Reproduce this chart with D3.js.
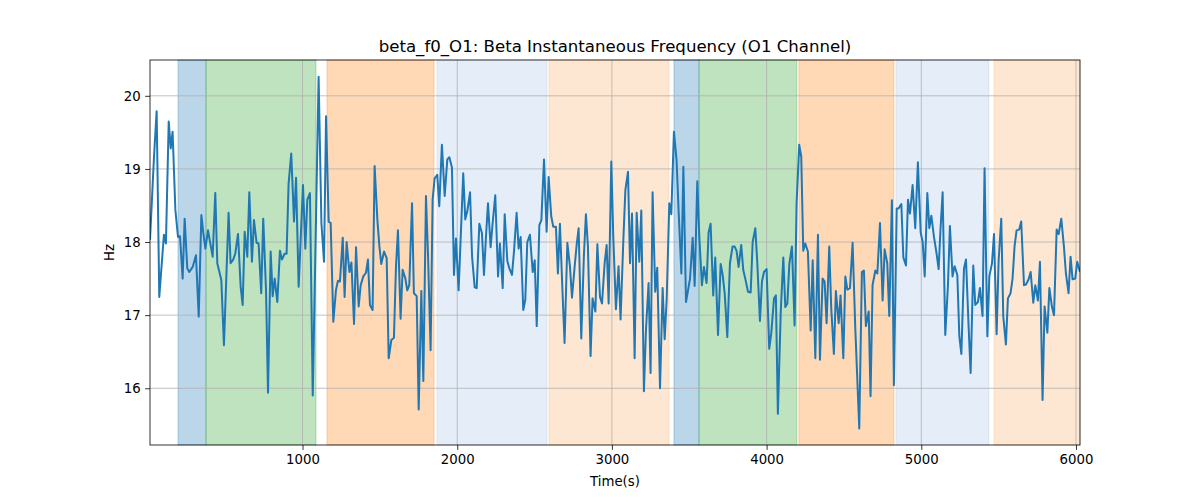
<!DOCTYPE html>
<html>
<head>
<meta charset="utf-8">
<script src="https://cdn.jsdelivr.net/npm/d3@7"></script>
<style>
  body { margin: 0; background: #fff; }
  svg { display: block; font-family: "DejaVu Sans", sans-serif; }
</style>
</head>
<body>
<svg id="chart" width="1200" height="500"></svg>
<script>
// ---- data ----
const times = [
  14, 40, 57, 74, 104, 117, 135, 148, 160, 178, 195, 208, 225, 238, 255, 268, 290, 311, 329, 346, 359, 372, 389, 419, 436, 449, 475, 492,
  522, 535, 552, 565, 583, 600, 613, 626, 643, 656, 673, 686, 703, 716, 733, 746, 764, 777, 794, 807, 820, 837, 854, 867, 884, 897, 910, 927, 945, 958, 975, 1003,
  1018, 1031, 1048, 1066, 1087, 1104, 1122, 1139, 1152, 1169, 1182, 1199, 1216, 1229, 1242, 1260, 1272, 1285, 1303, 1316, 1333, 1346, 1363, 1376, 1393, 1410, 1423, 1436, 1453, 1466, 1484, 1497, 1509,
  1527, 1544, 1557, 1574, 1591, 1604, 1617, 1634, 1647, 1665, 1677, 1690, 1708, 1720, 1738, 1751, 1768, 1781, 1798, 1811, 1828, 1841, 1854, 1871, 1884, 1901, 1919, 1936, 1949, 1966, 1979, 1992, 2009,
  2039, 2052, 2065, 2083, 2096, 2113, 2126, 2143, 2160, 2173, 2186, 2199, 2216, 2229, 2246, 2264, 2276, 2294, 2307, 2324, 2337, 2354, 2367, 2384, 2397, 2410, 2427, 2440, 2453, 2470, 2488, 2501, 2514,
  2531, 2544, 2561, 2578, 2591, 2608, 2621, 2638, 2651, 2664, 2681, 2694, 2712, 2729, 2742, 2759, 2772, 2785, 2802, 2819, 2832, 2845, 2862, 2875, 2893, 2906, 2923, 2936, 2953, 2966, 2979, 2996, 3009, 3026,
  3043, 3056, 3074, 3087, 3104, 3117, 3130, 3147, 3160, 3177, 3190, 3207, 3220, 3237, 3250, 3263, 3280, 3293, 3311, 3328, 3341, 3354, 3371, 3384, 3401, 3418, 3431, 3449, 3462, 3479, 3492, 3505, 3522, 3535,
  3552, 3565, 3582, 3595, 3612, 3625, 3638, 3655, 3668, 3686, 3703, 3716, 3729, 3746, 3763, 3780, 3793, 3806, 3819, 3836, 3849, 3862, 3880, 3897, 3910, 3927, 3940, 3957, 3970, 3983, 4000, 4017, 4030,
  4048, 4060, 4073, 4091, 4108, 4121, 4134, 4147, 4164, 4181, 4194, 4211, 4224, 4237, 4250, 4267, 4285, 4298, 4315, 4332, 4345, 4362, 4375, 4388, 4405, 4418, 4435, 4448, 4466, 4478, 4496, 4509, 4522, 4539,
  4556, 4573, 4599, 4616, 4629, 4642, 4660, 4672, 4685, 4703, 4716, 4733, 4750, 4763, 4780, 4793, 4810, 4823, 4841, 4853, 4871, 4884, 4901, 4914, 4927, 4944, 4961, 4978, 4996, 5009, 5022, 5039,
  5052, 5065, 5082, 5099, 5112, 5125, 5138, 5155, 5172, 5185, 5202, 5215, 5233, 5246, 5259, 5276, 5289, 5306, 5319, 5336, 5349, 5366, 5379, 5396, 5409, 5427, 5440, 5457, 5470, 5487, 5500, 5517, 5530,
  5547, 5560, 5577, 5590, 5603, 5616, 5633, 5646, 5664, 5677, 5694, 5707, 5724, 5737, 5754, 5767, 5784, 5797, 5815, 5828, 5845, 5858, 5875, 5888, 5905, 5922, 5935, 5952, 5965, 5978, 5995, 6008, 6026
];
const freqs = [
  18.03, 19.17, 19.79, 17.25, 18.10, 17.98, 19.65, 19.28, 19.51, 18.44, 18.07, 18.08, 17.50, 18.32, 17.64, 17.59, 17.66, 17.82, 16.98, 18.37, 18.12, 17.91, 18.16, 17.80, 18.67, 17.71, 17.48, 16.59,
  18.40, 17.71, 17.76, 17.84, 18.11, 17.39, 17.14, 18.14, 17.80, 18.68, 17.73, 18.30, 17.99, 17.98, 17.30, 18.32, 17.34, 15.94, 17.87, 17.26, 17.50, 17.18, 17.88, 17.76, 17.84, 17.84, 18.80, 19.21, 18.28, 18.88, 17.39, 18.78,
  17.91, 18.58, 18.67, 15.90, 18.30, 20.26, 18.26, 17.73, 19.72, 18.28, 18.26, 16.91, 17.34, 17.47, 17.46, 18.06, 17.25, 18.00, 17.59, 17.72, 16.88, 17.93, 17.12, 17.41, 17.53, 17.58, 17.76, 17.14, 17.07, 19.04, 18.30, 17.94, 17.70,
  17.87, 17.78, 16.41, 16.66, 16.69, 17.66, 18.16, 16.95, 17.62, 17.50, 17.34, 17.41, 18.53, 17.30, 17.26, 15.71, 17.33, 16.10, 18.63, 17.84, 16.52, 18.58, 18.87, 18.92, 18.49, 19.33, 18.63, 19.13, 19.16, 19.02, 17.55, 18.05, 17.34,
  18.94, 18.31, 18.42, 18.68, 17.80, 17.38, 17.37, 18.25, 18.12, 17.55, 18.08, 18.53, 17.93, 18.26, 18.64, 17.53, 17.98, 17.37, 18.38, 17.74, 17.64, 17.55, 17.87, 18.40, 17.91, 18.07, 17.07, 17.21, 18.00, 18.10, 17.59, 17.75, 16.85,
  18.23, 18.30, 19.13, 18.14, 18.89, 18.35, 18.21, 18.21, 17.57, 18.25, 17.30, 16.62, 17.99, 17.66, 17.24, 17.66, 17.96, 18.19, 16.68, 17.82, 18.38, 17.94, 16.44, 17.23, 17.05, 17.97, 17.25, 17.16, 17.71, 17.96, 17.16, 19.10, 18.07, 17.08,
  17.67, 16.94, 18.03, 18.71, 18.96, 17.71, 18.39, 16.41, 18.40, 17.73, 18.43, 15.96, 16.79, 17.44, 16.21, 18.68, 17.32, 17.65, 16.00, 17.37, 16.67, 17.21, 18.53, 18.38, 19.51, 19.12, 18.44, 17.57, 19.03, 17.18, 17.34, 17.50, 18.06, 17.40,
  18.83, 18.07, 17.41, 17.66, 17.44, 18.13, 18.25, 17.27, 17.79, 16.73, 17.70, 17.55, 17.30, 16.70, 17.71, 17.94, 17.94, 17.88, 17.66, 17.96, 17.62, 17.50, 17.32, 17.31, 18.00, 18.19, 17.71, 16.92, 17.46, 17.59, 17.63, 16.54, 16.75,
  17.23, 17.27, 15.65, 17.02, 17.79, 17.11, 17.16, 17.70, 17.94, 16.86, 18.53, 19.33, 19.17, 17.88, 17.98, 17.87, 16.79, 17.75, 16.41, 18.10, 16.39, 17.50, 17.46, 16.89, 17.94, 17.09, 16.47, 17.33, 16.89, 17.27, 16.41, 17.53, 17.35, 17.37,
  17.99, 16.84, 15.45, 17.59, 17.61, 16.85, 17.05, 15.89, 17.41, 17.61, 17.57, 18.26, 17.20, 17.90, 17.71, 16.99, 18.57, 16.04, 18.46, 18.46, 18.52, 17.79, 17.68, 18.58, 18.39, 18.78, 18.19, 19.09, 18.13, 18.00, 17.53, 18.67,
  18.19, 18.36, 18.07, 17.84, 17.63, 18.21, 18.68, 16.73, 17.39, 18.22, 17.53, 17.67, 17.55, 16.71, 16.47, 17.64, 17.76, 16.84, 16.21, 17.68, 17.14, 17.18, 17.37, 16.99, 19.01, 16.71, 17.53, 17.71, 18.11, 16.74, 17.75, 18.32, 16.98,
  16.60, 17.23, 17.30, 17.50, 17.94, 18.16, 18.17, 18.28, 17.41, 17.42, 17.49, 17.59, 17.17, 17.41, 17.20, 17.73, 15.84, 17.12, 16.76, 17.37, 17.11, 17.00, 18.17, 18.11, 18.32, 17.94, 17.57, 17.30, 17.80, 17.49, 17.50, 17.73, 17.59
];
// shaded phases: start, end, colour, opacity
const spanStarts = [195, 376, 1158, 1869, 2593, 3401, 3563, 4209, 4836, 5470];
const spanEnds   = [376, 1087, 1850, 2580, 3369, 3563, 4196, 4823, 5437, 6026];
const spanColors = ["#1f77b4", "#2ca02c", "#ff7f0e", "#6f9fd8", "#fdae6b", "#1f77b4", "#2ca02c", "#ff7f0e", "#6f9fd8", "#fdae6b"];
const spanAlphas = [0.3, 0.3, 0.3, 0.18, 0.3, 0.3, 0.3, 0.3, 0.18, 0.3];
const xTicks = [1000, 2000, 3000, 4000, 5000, 6000];
const yTicks = [16, 17, 18, 19, 20];
const titleText = "beta_f0_O1: Beta Instantaneous Frequency (O1 Channel)";
const xLabel = "Time(s)";
const yLabel = "Hz";

// ---- layout ----
const L = 150, R = 1080, T = 60, B = 445;
const svg = d3.select("#chart");
const x = d3.scaleLinear().domain([14, 6026]).range([L, R]);
const y = d3.scaleLinear().domain([15.224, 20.49]).range([B, T]);

// spans
const spans = spanStarts.map((s, i) => ({s, e: spanEnds[i], c: spanColors[i], a: spanAlphas[i]}));
svg.append("g").selectAll("rect").data(spans).join("rect")
  .attr("x", d => x(d.s)).attr("width", d => x(d.e) - x(d.s))
  .attr("y", T).attr("height", B - T)
  .attr("fill", d => d.c).attr("fill-opacity", d => d.a)
  .attr("stroke", d => d.c).attr("stroke-opacity", d => d.a).attr("stroke-width", 1);

// grid
const grid = svg.append("g").attr("stroke", "#b0b0b0").attr("stroke-width", 0.8);
grid.selectAll(".gx").data(xTicks).join("line")
  .attr("x1", d => x(d)).attr("x2", d => x(d)).attr("y1", T).attr("y2", B);
grid.selectAll(".gy").data(yTicks).join("line")
  .attr("y1", d => y(d)).attr("y2", d => y(d)).attr("x1", L).attr("x2", R);

// line
const pts = times.map((t, i) => [t, freqs[i]]);
svg.append("defs").append("clipPath").attr("id", "clip")
  .append("rect").attr("x", L).attr("y", T).attr("width", R - L).attr("height", B - T);
svg.append("path").datum(pts)
  .attr("clip-path", "url(#clip)")
  .attr("fill", "none").attr("stroke", "#1f77b4").attr("stroke-width", 2)
  .attr("stroke-linejoin", "round").attr("stroke-linecap", "butt")
  .attr("d", d3.line().x(d => x(d[0])).y(d => y(d[1])));

// axes
const xAxis = d3.axisBottom(x).tickValues(xTicks).tickFormat(d3.format("d")).tickSizeOuter(0).tickSize(4.9).tickPadding(4.5);
const yAxis = d3.axisLeft(y).tickValues(yTicks).tickFormat(d3.format("d")).tickSizeOuter(0).tickSize(4.9).tickPadding(4.5);
const gx = svg.append("g").attr("transform", `translate(0,${B})`).call(xAxis);
const gy = svg.append("g").attr("transform", `translate(${L},0)`).call(yAxis);
[gx, gy].forEach(g => {
  g.select(".domain").remove();
  g.selectAll("line").attr("stroke", "#000").attr("stroke-width", 0.8);
  g.selectAll("text").attr("fill", "#000").style("font-size", "13.3px").style("font-family", "DejaVu Sans, sans-serif");
});

// frame
svg.append("rect").attr("x", L).attr("y", T).attr("width", R - L).attr("height", B - T)
  .attr("fill", "none").attr("stroke", "#000").attr("stroke-width", 0.8);

// labels
svg.append("text").attr("x", (L + R) / 2).attr("y", 52).attr("text-anchor", "middle")
  .style("font-size", "16.6px").attr("fill", "#000").text(titleText);
svg.append("text").attr("x", (L + R) / 2).attr("y", 486).attr("text-anchor", "middle")
  .style("font-size", "13.3px").attr("fill", "#000").text(xLabel);
svg.append("text").attr("transform", `translate(114,${(T + B) / 2}) rotate(-90)`).attr("text-anchor", "middle")
  .style("font-size", "13.3px").attr("fill", "#000").text(yLabel);
</script>
</body>
</html>
